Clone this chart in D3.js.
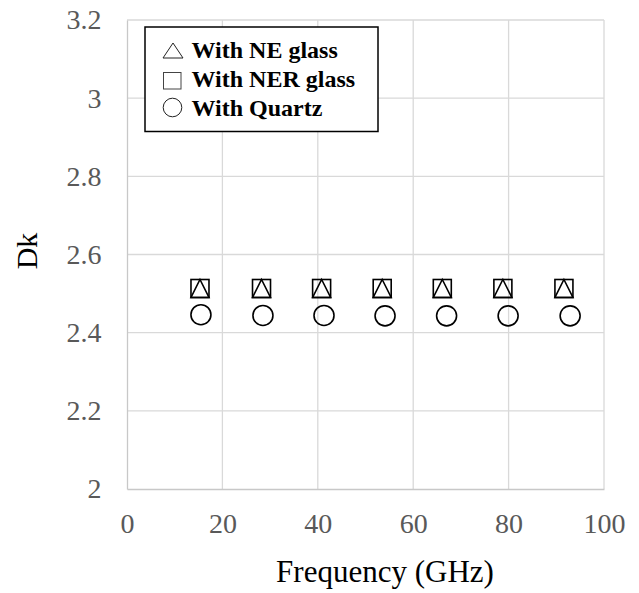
<!DOCTYPE html>
<html lang="en">
<head>
<meta charset="utf-8">
<script src="https://cdn.jsdelivr.net/npm/d3@7/dist/d3.min.js"></script>
<style>
  body { margin: 0; background: #fff; }
  text { font-family: "Liberation Serif", "Times New Roman", serif; }
</style>
</head>
<body>
<script>
/* values */
var freqNE = [15.3, 28.2, 40.8, 53.5, 66.1, 78.8, 91.6];
var dkNE = [2.513, 2.513, 2.513, 2.513, 2.513, 2.513, 2.513];
var freqNER = [15.3, 28.2, 40.8, 53.5, 66.1, 78.8, 91.6];
var dkNER = [2.513, 2.513, 2.513, 2.513, 2.513, 2.513, 2.513];
var freqQ = [15.5, 28.5, 41.3, 54.1, 67.0, 79.9, 92.9];
var dkQ = [2.446, 2.444, 2.444, 2.443, 2.443, 2.443, 2.443];
var xTicks = [0, 20, 40, 60, 80, 100];
var yTicks = [2, 2.2, 2.4, 2.6, 2.8, 3, 3.2];
var legendLabels = ["With NE glass", "With NER glass", "With Quartz"];

var w = 639, h = 593;
var mLeft = 127, mRight = 604, mTop = 20, mBottom = 489;

var svg = d3.select("body").append("svg").attr("width", w).attr("height", h);

var x = d3.scaleLinear().domain([0, 100]).range([mLeft, mRight]);
var y = d3.scaleLinear().domain([2, 3.2]).range([mBottom, mTop]);

// gridlines
svg.append("g").selectAll("line").data(xTicks.slice(1)).enter().append("line")
  .attr("x1", function(d) { return x(d); }).attr("x2", function(d) { return x(d); })
  .attr("y1", mTop).attr("y2", mBottom)
  .attr("stroke", "#d9d9d9").attr("stroke-width", 1.3);
svg.append("g").selectAll("line").data(yTicks.slice(1)).enter().append("line")
  .attr("x1", mLeft).attr("x2", mRight)
  .attr("y1", function(d) { return y(d); }).attr("y2", function(d) { return y(d); })
  .attr("stroke", "#d9d9d9").attr("stroke-width", 1.3);

// axes
var xAxis = svg.append("g").attr("transform", "translate(0," + mBottom + ")")
  .call(d3.axisBottom(x).tickValues(xTicks).tickSize(0));
var yAxis = svg.append("g").attr("transform", "translate(" + mLeft + ",0)")
  .call(d3.axisLeft(y).tickValues(yTicks).tickSize(0).tickPadding(25.5)
    .tickFormat(function(d) { return String(d); }));
xAxis.selectAll("text").attr("y", 44).attr("dy", null);
[xAxis, yAxis].forEach(function(a) {
  a.select(".domain").attr("stroke", "#c8c8c8").attr("stroke-width", 1.3);
  a.selectAll("text").attr("font-size", 28).attr("fill", "#595959")
    .style("font-family", "'Liberation Serif', serif");
});

// axis titles
svg.append("text").attr("x", 385).attr("y", 582)
  .attr("text-anchor", "middle").attr("font-size", 31).attr("fill", "#000")
  .text("Frequency (GHz)");
svg.append("text").attr("transform", "translate(37,251) rotate(-90)")
  .attr("text-anchor", "middle").attr("font-size", 30).attr("fill", "#000")
  .text("Dk");

// markers
var s = 9;
function triPath(cx, cy, r) {
  return "M" + cx + "," + (cy - r) + "L" + (cx + r) + "," + (cy + r) + "L" + (cx - r) + "," + (cy + r) + "Z";
}
svg.append("g").selectAll("rect").data(freqNER).enter().append("rect")
  .attr("x", function(d) { return x(d) - s; })
  .attr("y", function(d, i) { return y(dkNER[i]) - s; })
  .attr("width", 2 * s).attr("height", 2 * s)
  .attr("fill", "none").attr("stroke", "#000").attr("stroke-width", 1.6);
svg.append("g").selectAll("path").data(freqNE).enter().append("path")
  .attr("d", function(d, i) { return triPath(x(d), y(dkNE[i]), s); })
  .attr("fill", "none").attr("stroke", "#000").attr("stroke-width", 1.6);
svg.append("g").selectAll("circle").data(freqQ).enter().append("circle")
  .attr("cx", function(d) { return x(d); })
  .attr("cy", function(d, i) { return y(dkQ[i]); })
  .attr("r", 10)
  .attr("fill", "none").attr("stroke", "#000").attr("stroke-width", 1.6);

// legend
var lg = svg.append("g");
lg.append("rect").attr("x", 145).attr("y", 27).attr("width", 233).attr("height", 104.5)
  .attr("fill", "#fff").attr("stroke", "#000").attr("stroke-width", 1.5);
lg.append("path").attr("d", "M173,43L183,58L163,58Z")
  .attr("fill", "none").attr("stroke", "#222").attr("stroke-width", 1);
lg.append("rect").attr("x", 163.5).attr("y", 72.5).attr("width", 17.5).attr("height", 16.5)
  .attr("fill", "none").attr("stroke", "#444").attr("stroke-width", 1);
lg.append("circle").attr("cx", 172.5).attr("cy", 107.5).attr("r", 9.3)
  .attr("fill", "none").attr("stroke", "#222").attr("stroke-width", 1);
var rowBase = [58, 87, 116];
lg.selectAll("text.lab").data(legendLabels).enter().append("text")
  .attr("class", "lab")
  .attr("x", 191.5).attr("y", function(d, i) { return rowBase[i]; })
  .attr("font-size", 24).attr("font-weight", "bold").attr("fill", "#000")
  .text(function(d) { return d; });
</script>
</body>
</html>
